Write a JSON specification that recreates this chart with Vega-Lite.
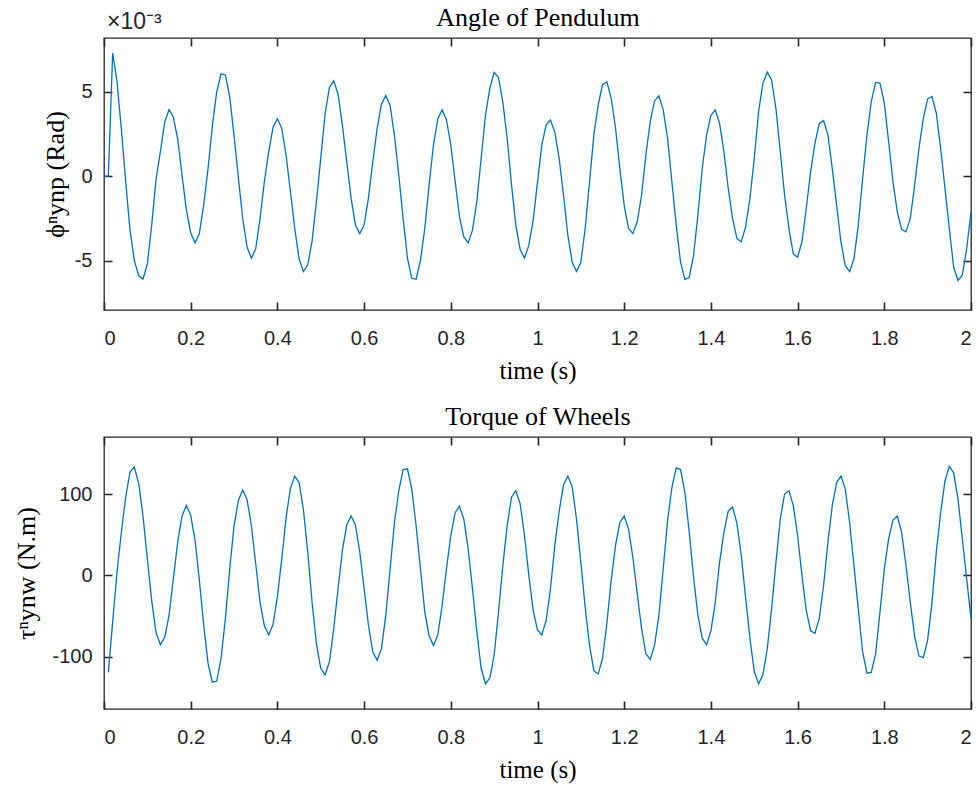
{
"$schema": "https://vega.github.io/schema/vega-lite/v6.json",
"background": "white",
"padding": {"left": 13, "top": 3, "right": 6, "bottom": 4},
"spacing": 18,
"config": {
 "view": {"stroke": "#262626", "strokeWidth": 1.3},
 "title": {"fontSize": 23},
 "axis": {"domain": false, "ticks": false, "labelColor": "#262626", "titleColor": "#000000", "labelFont": "Liberation Sans", "labelFontSize": 20, "titleFont": "Liberation Serif", "titleFontSize": 25, "titleFontWeight": "normal", "gridColor": "#262626", "gridOpacity": 1, "gridWidth": 1.6}
},
"datasets": {
"phi": [
{"t":0,"v":0},{"t":0.01,"v":0},{"t":0.02,"v":7.3},{"t":0.03,"v":5.6},{"t":0.04,"v":2.8},{"t":0.05,"v":-0.3},{"t":0.06,"v":-3.2},{"t":0.07,"v":-5.0},{"t":0.08,"v":-5.9},{"t":0.09,"v":-6.1},
{"t":0.1,"v":-5.2},{"t":0.11,"v":-2.9},{"t":0.12,"v":-0.2},{"t":0.13,"v":1.45},{"t":0.14,"v":3.2},{"t":0.15,"v":3.95},{"t":0.16,"v":3.5},{"t":0.17,"v":2.2},{"t":0.18,"v":0.06},{"t":0.19,"v":-2.0},
{"t":0.2,"v":-3.35},{"t":0.21,"v":-3.95},{"t":0.22,"v":-3.4},{"t":0.23,"v":-1.7},{"t":0.24,"v":0.45},{"t":0.25,"v":3.0},{"t":0.26,"v":5.0},{"t":0.27,"v":6.07},{"t":0.28,"v":6.0},{"t":0.29,"v":4.7},
{"t":0.3,"v":2.4},{"t":0.31,"v":-0.1},{"t":0.32,"v":-2.5},{"t":0.33,"v":-4.2},{"t":0.34,"v":-4.85},{"t":0.35,"v":-4.3},{"t":0.36,"v":-2.5},{"t":0.37,"v":-0.3},{"t":0.38,"v":1.45},{"t":0.39,"v":2.9},
{"t":0.4,"v":3.4},{"t":0.41,"v":2.85},{"t":0.42,"v":1.25},{"t":0.43,"v":-0.9},{"t":0.44,"v":-3.1},{"t":0.45,"v":-4.9},{"t":0.46,"v":-5.65},{"t":0.47,"v":-5.25},{"t":0.48,"v":-3.85},{"t":0.49,"v":-1.5},
{"t":0.5,"v":1.05},{"t":0.51,"v":3.7},{"t":0.52,"v":5.26},{"t":0.53,"v":5.65},{"t":0.54,"v":4.86},{"t":0.55,"v":3.0},{"t":0.56,"v":0.85},{"t":0.57,"v":-1.3},{"t":0.58,"v":-2.9},{"t":0.59,"v":-3.4},
{"t":0.6,"v":-2.9},{"t":0.61,"v":-1.3},{"t":0.62,"v":0.85},{"t":0.63,"v":2.8},{"t":0.64,"v":4.27},{"t":0.65,"v":4.78},{"t":0.66,"v":4.19},{"t":0.67,"v":2.4},{"t":0.68,"v":0.06},{"t":0.69,"v":-2.5},
{"t":0.7,"v":-4.85},{"t":0.71,"v":-6.05},{"t":0.72,"v":-6.1},{"t":0.73,"v":-5.0},{"t":0.74,"v":-3.1},{"t":0.75,"v":-0.5},{"t":0.76,"v":1.85},{"t":0.77,"v":3.4},{"t":0.78,"v":3.93},{"t":0.79,"v":3.33},
{"t":0.8,"v":1.85},{"t":0.81,"v":-0.3},{"t":0.82,"v":-2.4},{"t":0.83,"v":-3.6},{"t":0.84,"v":-3.95},{"t":0.85,"v":-3.2},{"t":0.86,"v":-1.5},{"t":0.87,"v":1.05},{"t":0.88,"v":3.6},{"t":0.89,"v":5.2},
{"t":0.9,"v":6.15},{"t":0.91,"v":5.85},{"t":0.92,"v":4.4},{"t":0.93,"v":2.25},{"t":0.94,"v":-0.5},{"t":0.95,"v":-2.9},{"t":0.96,"v":-4.35},{"t":0.97,"v":-4.85},{"t":0.98,"v":-4.1},{"t":0.99,"v":-2.6},
{"t":1.0,"v":-0.35},{"t":1.01,"v":1.85},{"t":1.02,"v":3.04},{"t":1.03,"v":3.33},{"t":1.04,"v":2.6},{"t":1.05,"v":1.05},{"t":1.06,"v":-1.13},{"t":1.07,"v":-3.5},{"t":1.08,"v":-5.1},{"t":1.09,"v":-5.65},
{"t":1.1,"v":-5.1},{"t":1.11,"v":-3.1},{"t":1.12,"v":-0.35},{"t":1.13,"v":2.45},{"t":1.14,"v":4.23},{"t":1.15,"v":5.42},{"t":1.16,"v":5.6},{"t":1.17,"v":4.62},{"t":1.18,"v":2.84},{"t":1.19,"v":0.45},
{"t":1.2,"v":-1.73},{"t":1.21,"v":-3.1},{"t":1.22,"v":-3.4},{"t":1.23,"v":-2.7},{"t":1.24,"v":-1.13},{"t":1.25,"v":1.25},{"t":1.26,"v":3.23},{"t":1.27,"v":4.46},{"t":1.28,"v":4.76},{"t":1.29,"v":3.93},
{"t":1.3,"v":2.24},{"t":1.31,"v":-0.34},{"t":1.32,"v":-2.9},{"t":1.33,"v":-5.1},{"t":1.34,"v":-6.13},{"t":1.35,"v":-6.0},{"t":1.36,"v":-4.7},{"t":1.37,"v":-2.3},{"t":1.38,"v":0.45},{"t":1.39,"v":2.44},
{"t":1.4,"v":3.6},{"t":1.41,"v":3.93},{"t":1.42,"v":3.13},{"t":1.43,"v":1.45},{"t":1.44,"v":-0.73},{"t":1.45,"v":-2.5},{"t":1.46,"v":-3.7},{"t":1.47,"v":-3.88},{"t":1.48,"v":-3.0},{"t":1.49,"v":-1.33},
{"t":1.5,"v":1.05},{"t":1.51,"v":3.83},{"t":1.52,"v":5.5},{"t":1.53,"v":6.17},{"t":1.54,"v":5.7},{"t":1.55,"v":4.0},{"t":1.56,"v":1.45},{"t":1.57,"v":-1.13},{"t":1.58,"v":-3.1},{"t":1.59,"v":-4.6},
{"t":1.6,"v":-4.8},{"t":1.61,"v":-3.9},{"t":1.62,"v":-1.9},{"t":1.63,"v":0.26},{"t":1.64,"v":1.95},{"t":1.65,"v":3.13},{"t":1.66,"v":3.3},{"t":1.67,"v":2.44},{"t":1.68,"v":0.45},{"t":1.69,"v":-1.73},
{"t":1.7,"v":-3.9},{"t":1.71,"v":-5.3},{"t":1.72,"v":-5.65},{"t":1.73,"v":-4.9},{"t":1.74,"v":-2.9},{"t":1.75,"v":-0.14},{"t":1.76,"v":2.44},{"t":1.77,"v":4.42},{"t":1.78,"v":5.56},{"t":1.79,"v":5.52},
{"t":1.8,"v":4.33},{"t":1.81,"v":2.04},{"t":1.82,"v":-0.34},{"t":1.83,"v":-2.12},{"t":1.84,"v":-3.15},{"t":1.85,"v":-3.3},{"t":1.86,"v":-2.5},{"t":1.87,"v":-0.54},{"t":1.88,"v":1.65},{"t":1.89,"v":3.43},
{"t":1.9,"v":4.58},{"t":1.91,"v":4.72},{"t":1.92,"v":3.73},{"t":1.93,"v":1.65},{"t":1.94,"v":-0.73},{"t":1.95,"v":-3.1},{"t":1.96,"v":-5.4},{"t":1.97,"v":-6.19},{"t":1.98,"v":-5.85},{"t":1.99,"v":-4.3},
{"t":2.0,"v":-2.12}
],
"tau": [
{"t":0.01,"v":-119},{"t":0.02,"v":-57},{"t":0.03,"v":4},{"t":0.04,"v":53},{"t":0.05,"v":96},{"t":0.06,"v":127},{"t":0.07,"v":133},{"t":0.08,"v":113},{"t":0.09,"v":73},
{"t":0.1,"v":20},{"t":0.11,"v":-31},{"t":0.12,"v":-70},{"t":0.13,"v":-85},{"t":0.14,"v":-76},{"t":0.15,"v":-49},{"t":0.16,"v":-4},{"t":0.17,"v":41},{"t":0.18,"v":73},{"t":0.19,"v":86},
{"t":0.2,"v":74},{"t":0.21,"v":43},{"t":0.22,"v":-6},{"t":0.23,"v":-61},{"t":0.24,"v":-108},{"t":0.25,"v":-131},{"t":0.26,"v":-130},{"t":0.27,"v":-102},{"t":0.28,"v":-53},{"t":0.29,"v":8},
{"t":0.3,"v":61},{"t":0.31,"v":92},{"t":0.32,"v":105},{"t":0.33,"v":93},{"t":0.34,"v":61},{"t":0.35,"v":14},{"t":0.36,"v":-33},{"t":0.37,"v":-62},{"t":0.38,"v":-73},{"t":0.39,"v":-60},
{"t":0.4,"v":-26},{"t":0.41,"v":20},{"t":0.42,"v":71},{"t":0.43,"v":107},{"t":0.44,"v":122},{"t":0.45,"v":114},{"t":0.46,"v":81},{"t":0.47,"v":29},{"t":0.48,"v":-33},{"t":0.49,"v":-84},
{"t":0.5,"v":-114},{"t":0.51,"v":-122},{"t":0.52,"v":-106},{"t":0.53,"v":-65},{"t":0.54,"v":-16},{"t":0.55,"v":31},{"t":0.56,"v":62},{"t":0.57,"v":73},{"t":0.58,"v":62},{"t":0.59,"v":29},
{"t":0.6,"v":-16},{"t":0.61,"v":-61},{"t":0.62,"v":-94},{"t":0.63,"v":-104},{"t":0.64,"v":-90},{"t":0.65,"v":-49},{"t":0.66,"v":8},{"t":0.67,"v":65},{"t":0.68,"v":104},{"t":0.69,"v":130},
{"t":0.7,"v":131},{"t":0.71,"v":106},{"t":0.72,"v":61},{"t":0.73,"v":8},{"t":0.74,"v":-45},{"t":0.75,"v":-74},{"t":0.76,"v":-86},{"t":0.77,"v":-73},{"t":0.78,"v":-37},{"t":0.79,"v":8},
{"t":0.8,"v":49},{"t":0.81,"v":77},{"t":0.82,"v":85},{"t":0.83,"v":69},{"t":0.84,"v":33},{"t":0.85,"v":-16},{"t":0.86,"v":-69},{"t":0.87,"v":-114},{"t":0.88,"v":-133},{"t":0.89,"v":-126},
{"t":0.9,"v":-98},{"t":0.91,"v":-45},{"t":0.92,"v":12},{"t":0.93,"v":61},{"t":0.94,"v":96},{"t":0.95,"v":104},{"t":0.96,"v":88},{"t":0.97,"v":49},{"t":0.98,"v":0},{"t":0.99,"v":-43},
{"t":1.0,"v":-67},{"t":1.01,"v":-73},{"t":1.02,"v":-55},{"t":1.03,"v":-16},{"t":1.04,"v":37},{"t":1.05,"v":79},{"t":1.06,"v":111},{"t":1.07,"v":122},{"t":1.08,"v":109},{"t":1.09,"v":69},
{"t":1.1,"v":16},{"t":1.11,"v":-39},{"t":1.12,"v":-86},{"t":1.13,"v":-117},{"t":1.14,"v":-121},{"t":1.15,"v":-102},{"t":1.16,"v":-59},{"t":1.17,"v":-6},{"t":1.18,"v":37},{"t":1.19,"v":65},
{"t":1.2,"v":73},{"t":1.21,"v":57},{"t":1.22,"v":22},{"t":1.23,"v":-22},{"t":1.24,"v":-65},{"t":1.25,"v":-96},{"t":1.26,"v":-103},{"t":1.27,"v":-86},{"t":1.28,"v":-49},{"t":1.29,"v":8},
{"t":1.3,"v":67},{"t":1.31,"v":108},{"t":1.32,"v":132},{"t":1.33,"v":130},{"t":1.34,"v":102},{"t":1.35,"v":53},{"t":1.36,"v":-2},{"t":1.37,"v":-49},{"t":1.38,"v":-77},{"t":1.39,"v":-85},
{"t":1.4,"v":-68},{"t":1.41,"v":-33},{"t":1.42,"v":16},{"t":1.43,"v":53},{"t":1.44,"v":79},{"t":1.45,"v":84},{"t":1.46,"v":64},{"t":1.47,"v":25},{"t":1.48,"v":-27},{"t":1.49,"v":-77},
{"t":1.5,"v":-118},{"t":1.51,"v":-133},{"t":1.52,"v":-122},{"t":1.53,"v":-90},{"t":1.54,"v":-41},{"t":1.55,"v":16},{"t":1.56,"v":69},{"t":1.57,"v":100},{"t":1.58,"v":104},{"t":1.59,"v":86},
{"t":1.6,"v":49},{"t":1.61,"v":0},{"t":1.62,"v":-43},{"t":1.63,"v":-68},{"t":1.64,"v":-71},{"t":1.65,"v":-53},{"t":1.66,"v":-12},{"t":1.67,"v":41},{"t":1.68,"v":86},{"t":1.69,"v":114},
{"t":1.7,"v":122},{"t":1.71,"v":106},{"t":1.72,"v":65},{"t":1.73,"v":12},{"t":1.74,"v":-41},{"t":1.75,"v":-94},{"t":1.76,"v":-120},{"t":1.77,"v":-119},{"t":1.78,"v":-96},{"t":1.79,"v":-45},
{"t":1.8,"v":8},{"t":1.81,"v":45},{"t":1.82,"v":68},{"t":1.83,"v":73},{"t":1.84,"v":53},{"t":1.85,"v":12},{"t":1.86,"v":-33},{"t":1.87,"v":-75},{"t":1.88,"v":-99},{"t":1.89,"v":-101},
{"t":1.9,"v":-79},{"t":1.91,"v":-33},{"t":1.92,"v":29},{"t":1.93,"v":77},{"t":1.94,"v":116},{"t":1.95,"v":134},{"t":1.96,"v":126},{"t":1.97,"v":94},{"t":1.98,"v":45},{"t":1.99,"v":-4},
{"t":2.0,"v":-53}
]
},
"vconcat": [
{
 "width": 867, "height": 272,
 "title": {"text": "×10⁻³", "anchor": "start", "frame": "group", "font": "Liberation Sans", "fontSize": 23, "fontWeight": "normal", "color": "#262626", "offset": -30, "dx": 3},
 "data": {"name": "phi"},
 "layer": [
  {"mark": {"type": "line", "color": "#0072BD", "strokeWidth": 1.3},
   "encoding": {
    "x": {"field": "t", "type": "quantitative", "scale": {"domain": [0, 2], "nice": false}, "axis": {"values": [0,0.2,0.4,0.6,0.8,1,1.2,1.4,1.6,1.8,2], "format": "~g", "labelPadding": 18, "grid": true, "gridDash": [8, 256, 8, 600], "title": "time (s)", "titlePadding": 10}},
    "y": {"field": "v", "type": "quantitative", "scale": {"domain": [-7.93, 8.19], "nice": false, "zero": false}, "axis": {"values": [-5,0,5], "labelExpr": "datum.value < 0 ? '-' + (-datum.value) : '' + datum.value", "labelPadding": 12, "grid": true, "gridDash": [8, 851, 8, 1200], "title": "ϕⁿynp  (Rad)", "titleFontSize": 26, "titlePadding": 6}}
   }},
  {"mark": {"type": "line", "opacity": 0},
   "encoding": {
    "x": {"field": "t", "type": "quantitative", "axis": {"orient": "top", "labels": false, "grid": false, "title": "Angle of Pendulum", "titleFontSize": 26, "titlePadding": 8}},
    "y": {"field": "v", "type": "quantitative", "axis": null}
   }}
 ],
 "resolve": {"axis": {"x": "independent", "y": "independent"}}
},
{
 "width": 867, "height": 272,
 "data": {"name": "tau"},
 "layer": [
  {"mark": {"type": "line", "color": "#0072BD", "strokeWidth": 1.3},
   "encoding": {
    "x": {"field": "t", "type": "quantitative", "scale": {"domain": [0, 2], "nice": false}, "axis": {"values": [0,0.2,0.4,0.6,0.8,1,1.2,1.4,1.6,1.8,2], "format": "~g", "labelPadding": 18, "grid": true, "gridDash": [8, 256, 8, 600], "title": "time (s)", "titlePadding": 10}},
    "y": {"field": "v", "type": "quantitative", "scale": {"domain": [-164, 170], "nice": false, "zero": false}, "axis": {"values": [-100,0,100], "labelExpr": "datum.value < 0 ? '-' + (-datum.value) : '' + datum.value", "labelPadding": 12, "grid": true, "gridDash": [8, 851, 8, 1200], "title": "τⁿynw  (N.m)", "titleFontSize": 26, "titlePadding": 12}}
   }},
  {"mark": {"type": "line", "opacity": 0},
   "encoding": {
    "x": {"field": "t", "type": "quantitative", "axis": {"orient": "top", "labels": false, "grid": false, "title": "Torque of Wheels", "titleFontSize": 26, "titlePadding": 8}},
    "y": {"field": "v", "type": "quantitative", "axis": null}
   }}
 ],
 "resolve": {"axis": {"x": "independent", "y": "independent"}}
}
]
}
